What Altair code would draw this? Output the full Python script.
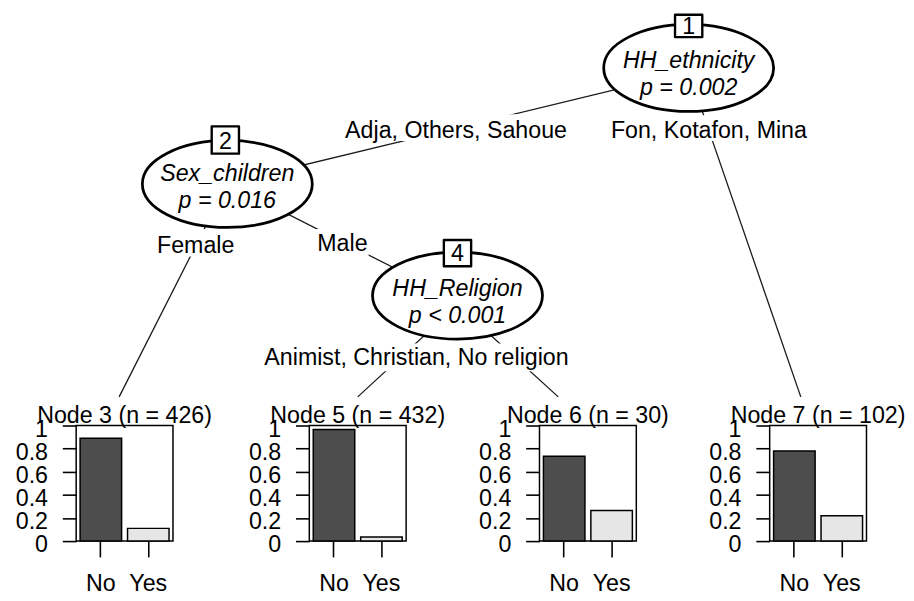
import altair as alt
import pandas as pd

FONT = "Liberation Sans"
FS = 23.5

# ---------------- data ----------------
inner_ids = ["1", "2", "4"]
inner_vars = ["HH_ethnicity", "Sex_children", "HH_Religion"]
inner_pvals = ["p = 0.002", "p = 0.016", "p < 0.001"]
edge_labels = ["Adja, Others, Sahoue", "Fon, Kotafon, Mina", "Female", "Male",
               "Animist, Christian, No religion"]
terminal_ids = [3, 5, 6, 7]
terminal_n = [426, 432, 30, 102]
classes = ["No", "Yes"]
prop_no = [0.89, 0.965, 0.735, 0.78]
prop_yes = [0.11, 0.035, 0.265, 0.22]

# ---------------- layout (page pixel coordinates) ----------------
inner_cx = [694, 227, 460]
inner_cy = [65, 182.5, 295.5]
idbox_x1 = [680.2, 211.2, 446.2]
idbox_x2 = [707.8, 238.8, 473.8]
idbox_y1 = [11.2, 124.2, 239.2]
idbox_y2 = [33.8, 151.8, 265.8]
idtext_x = [694, 225, 460]
idtext_y = [24, 140, 253]
var_y = [58, 172.5, 288.5]
pval_y = [85, 199.5, 316.5]

edge_x1 = [694, 694, 227, 227, 460, 460]
edge_y1 = [69, 69, 182, 182, 305, 305]
edge_x2 = [227, 807.5, 117.5, 460, 359, 562]
edge_y2 = [182, 398, 398, 300, 398, 398]

lab_x = [458.5, 714.5, 195, 343.5, 418.5]
lab_y = [128.5, 128.5, 245.5, 243, 358.5]
labbox_x1 = [344, 614, 155, 317, 262]
labbox_x2 = [573, 815, 235, 370, 575]
labbox_y1 = [112, 113, 228, 228, 344]
labbox_y2 = [139, 139, 256, 256, 372]

term_title_x = [123, 359, 592, 825]
term_title_y = 417.5

PANEL_W, PANEL_H = 98, 117
spacer_w = [66, 138, 135, 135]

# ---------------- tree (layout coordinate frame) ----------------
TREE_W, TREE_H = 898, 419
xs = alt.Scale(domain=[8, 8 + TREE_W], nice=False, zero=False)
ys = alt.Scale(domain=[8, 8 + TREE_H], nice=False, zero=False, reverse=True)


def X(f):
    return alt.X(f"{f}:Q", scale=xs, axis=None)


def Y(f):
    return alt.Y(f"{f}:Q", scale=ys, axis=None)


edges_df = pd.DataFrame({"x": edge_x1, "y": edge_y1, "x2": edge_x2, "y2": edge_y2})
edges = alt.Chart(edges_df).mark_rule(color="#1a1a1a", strokeWidth=1.3).encode(
    x=X("x"), y=Y("y"), x2="x2:Q", y2="y2:Q")

labbox_df = pd.DataFrame({"x": labbox_x1, "x2": labbox_x2, "y": labbox_y1, "y2": labbox_y2})
labboxes = alt.Chart(labbox_df).mark_rect(fill="white", opacity=1).encode(
    x=X("x"), x2="x2:Q", y=Y("y"), y2="y2:Q")

lab_df = pd.DataFrame({"x": lab_x, "y": lab_y, "t": edge_labels})
labels = alt.Chart(lab_df).mark_text(font=FONT, fontSize=FS, color="black",
                                     align="center", baseline="middle").encode(
    x=X("x"), y=Y("y"), text="t:N")

ELLIPSE = "M -1 0 A 1 0.512 0 1 1 1 0 A 1 0.512 0 1 1 -1 0 Z"
ell_df = pd.DataFrame({"x": inner_cx, "y": inner_cy})
ellipses = alt.Chart(ell_df).mark_point(shape=ELLIPSE, size=172 * 172, filled=True,
                                        fill="white", stroke="black", strokeWidth=2.8,
                                        opacity=1).encode(x=X("x"), y=Y("y"))

box_df = pd.DataFrame({"x": idbox_x1, "x2": idbox_x2, "y": idbox_y1, "y2": idbox_y2})
idboxes = alt.Chart(box_df).mark_rect(fill="white", stroke="black", strokeWidth=2.4,
                                      strokeJoin="round", opacity=1).encode(
    x=X("x"), x2="x2:Q", y=Y("y"), y2="y2:Q")
idt_df = pd.DataFrame({"x": idtext_x, "y": idtext_y, "id": inner_ids})
idtext = alt.Chart(idt_df).mark_text(font=FONT, fontSize=FS, color="black",
                                     align="center", baseline="middle").encode(
    x=X("x"), y=Y("y"), text="id:N")

inner_df = pd.DataFrame({"x": inner_cx, "vy": var_y, "py": pval_y,
                         "v": inner_vars, "p": inner_pvals})
vartext = alt.Chart(inner_df).mark_text(font=FONT, fontSize=FS, fontStyle="italic",
                                        color="black", align="center",
                                        baseline="middle").encode(
    x=X("x"), y=Y("vy"), text="v:N")
ptext = alt.Chart(inner_df).mark_text(font=FONT, fontSize=FS, fontStyle="italic",
                                      color="black", align="center",
                                      baseline="middle").encode(
    x=X("x"), y=Y("py"), text="p:N")

term_df = pd.DataFrame({
    "x": term_title_x,
    "y": [term_title_y] * len(terminal_ids),
    "t": [f"Node {i} (n = {n})" for i, n in zip(terminal_ids, terminal_n)],
})
term_titles = alt.Chart(term_df).mark_text(font=FONT, fontSize=FS, color="black",
                                           align="center", baseline="middle").encode(
    x=X("x"), y=Y("y"), text="t:N")

tree = alt.layer(edges, labboxes, labels, ellipses, idboxes, idtext, vartext, ptext,
                 term_titles).properties(width=TREE_W, height=TREE_H)


# ---------------- terminal bar panels ----------------
def bar_panel(i):
    df = pd.DataFrame({"cls": classes, "p": [prop_no[i], prop_yes[i]]})
    return alt.Chart(df).mark_bar(stroke="black", strokeWidth=1.5, opacity=1).encode(
        x=alt.X("cls:N", sort=classes,
                scale=alt.Scale(paddingInner=0.125, paddingOuter=0.083),
                axis=alt.Axis(title=None, labelAngle=0, tickSize=16, labelPadding=15,
                              domain=False, grid=False, labelOverlap=False,
                              labelFlush=False)),
        y=alt.Y("p:Q", scale=alt.Scale(domain=[0, 1], nice=False, zero=True),
                axis=alt.Axis(title=None, values=[0, 0.2, 0.4, 0.6, 0.8, 1],
                              format="~g", tickSize=14, labelPadding=15, domain=False,
                              grid=False, labelOverlap=False, labelFlush=False,
                              labelOffset=4)),
        color=alt.Color("cls:N", scale=alt.Scale(domain=classes,
                                                 range=["#4D4D4D", "#E6E6E6"]),
                        legend=None),
    ).properties(width=PANEL_W, height=PANEL_H,
                 view=alt.ViewBackground(stroke="black", strokeWidth=1.5))


def spacer(w):
    return alt.Chart(pd.DataFrame({"v": [0]})).mark_point(opacity=0).encode(
        x=alt.value(0), y=alt.value(0)).properties(width=w, height=PANEL_H)


row = []
for k in range(4):
    row.append(spacer(spacer_w[k]))
    row.append(bar_panel(k))
bars = alt.hconcat(*row, spacing=0, bounds="flush")

chart = alt.vconcat(tree, bars, spacing=0, bounds="flush").properties(
    padding=0, background="white"
).configure_view(strokeWidth=0).configure_axis(
    labelFont=FONT, labelFontSize=FS, labelColor="black", tickColor="black",
    tickWidth=1.6,
)

chart.save("out.html", embed_options={"renderer": "svg", "actions": False})
